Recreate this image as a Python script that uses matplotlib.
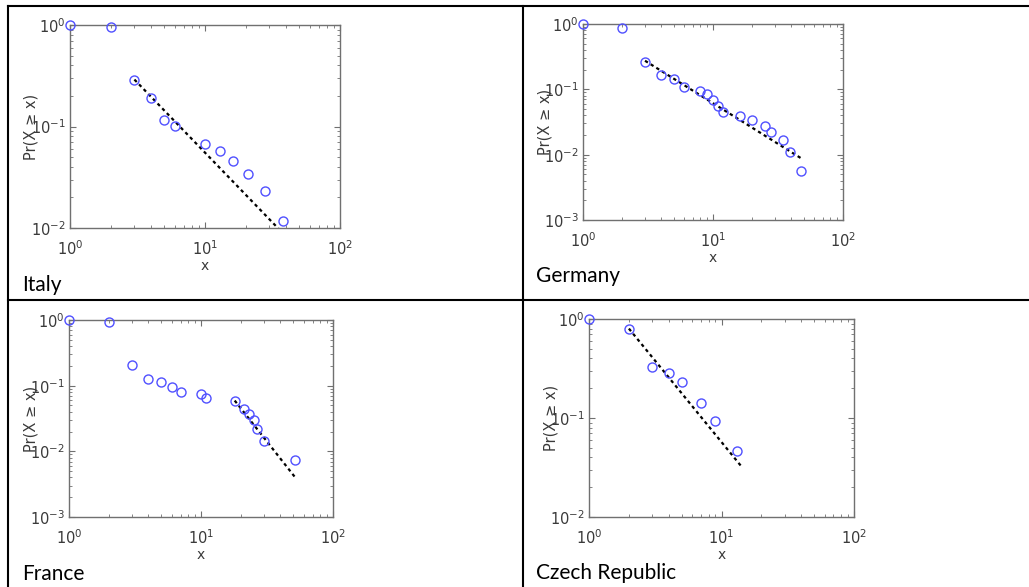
import matplotlib
matplotlib.use("Agg")
import matplotlib.pyplot as plt
from matplotlib.lines import Line2D
from matplotlib.ticker import LogLocator, NullFormatter

W, H = 1029, 587

# --- data ---
italy_x = [1, 2, 3, 4, 5, 6, 10, 13, 16, 21, 28, 38]
italy_y = [1.0, 0.948, 0.284, 0.192, 0.115, 0.102, 0.068, 0.057, 0.0455, 0.034, 0.023, 0.0116]
italy_fit_x = [3, 38]
italy_fit_y = [0.29, 0.0088]

germany_x = [1, 2, 3, 4, 5, 6, 8, 9, 10, 11, 12, 16, 20, 25, 28, 34.5, 39, 47.5]
germany_y = [1.0, 0.879, 0.261, 0.163, 0.145, 0.109, 0.095, 0.0836, 0.0692, 0.056,
             0.0448, 0.0389, 0.0334, 0.0276, 0.0224, 0.0167, 0.011, 0.00558]
germany_fit_x = [3, 49]
germany_fit_y = [0.274, 0.0085]

france_x = [1, 2, 3, 4, 5, 6, 7, 10, 11, 18, 21, 23, 25, 26.7, 30, 51.5]
france_y = [1.0, 0.922, 0.205, 0.125, 0.115, 0.097, 0.0795, 0.074, 0.066, 0.0593,
            0.0443, 0.0368, 0.0295, 0.0218, 0.0146, 0.00726]
france_fit_x = [18, 52.7]
france_fit_y = [0.0593, 0.00382]

czech_x = [1, 2, 3, 4, 5, 7, 9, 13]
czech_y = [1.0, 0.799, 0.327, 0.283, 0.233, 0.142, 0.0933, 0.0468]
czech_fit_x = [2, 14.3]
czech_fit_y = [0.80, 0.0318]

panels = [
    # name, x, y, fit x, fit y, ymin, axes box (px: left, top, right, bottom), label pos (px)
    ("Italy", italy_x, italy_y, italy_fit_x, italy_fit_y, 1e-2, (70, 25, 340, 228), (22, 285)),
    ("Germany", germany_x, germany_y, germany_fit_x, germany_fit_y, 1e-3, (583, 24, 843, 220), (536, 276)),
    ("France", france_x, france_y, france_fit_x, france_fit_y, 1e-3, (69, 320, 333, 517), (22, 574)),
    ("Czech Republic", czech_x, czech_y, czech_fit_x, czech_fit_y, 1e-2, (589, 319, 854, 517), (536, 573)),
]

axcol = "#707070"
txtcol = "#3a3a3a"

fig = plt.figure(figsize=(W / 100, H / 100), dpi=100)

for name, xs, ys, fx, fy, ymin, box, lab in panels:
    l, t, r, b = box
    ax = fig.add_axes([l / W, 1 - b / H, (r - l) / W, (b - t) / H])
    ax.set_xscale("log")
    ax.set_yscale("log")
    ax.set_xlim(1, 100)
    ax.set_ylim(ymin, 1)
    ax.plot(fx, fy, color="black", linestyle=(0, (1.5, 1.5)), linewidth=1.6, zorder=2)
    ax.plot(xs, ys, linestyle="none", marker="o", markersize=6.5, markerfacecolor="none",
            markeredgecolor="#5050ff", markeredgewidth=1.0, clip_on=False, zorder=3)
    ax.xaxis.set_major_locator(LogLocator(base=10, numticks=10))
    ax.yaxis.set_major_locator(LogLocator(base=10, numticks=10))
    ax.xaxis.set_minor_locator(LogLocator(base=10, subs=range(2, 10), numticks=10))
    ax.yaxis.set_minor_locator(LogLocator(base=10, subs=range(2, 10), numticks=10))
    ax.xaxis.set_minor_formatter(NullFormatter())
    ax.yaxis.set_minor_formatter(NullFormatter())
    ax.tick_params(which="both", direction="in", top=True, right=True, color=axcol,
                   labelcolor=txtcol, labelsize=10.5)
    ax.tick_params(which="major", length=4)
    ax.tick_params(axis="y", which="major", pad=3)
    ax.tick_params(axis="x", which="major", pad=8)
    ax.tick_params(which="minor", length=2)
    for s in ax.spines.values():
        s.set_color(axcol)
        s.set_linewidth(1.0)
    ax.set_ylabel("Pr(X ≥ x)", color=txtcol, fontsize=10.5)
    ax.yaxis.set_label_coords(-31 / (r - l), 0.5)
    ax.set_xlabel("x", color=txtcol, fontsize=10)
    ax.xaxis.set_label_coords(0.5, -31 / (b - t))
    fig.text(lab[0] / W, 1 - lab[1] / H, name, fontsize=15, family=["Lato", "DejaVu Sans"],
             ha="left", va="center", color="black")

# table rules
lw = 1.5
fig.add_artist(Line2D([8 / W, 1], [1 - 6 / H, 1 - 6 / H], color="black", linewidth=lw))
fig.add_artist(Line2D([8 / W, 8 / W], [0, 1 - 6 / H], color="black", linewidth=lw))
fig.add_artist(Line2D([8 / W, 1], [1 - 300 / H, 1 - 300 / H], color="black", linewidth=lw))
fig.add_artist(Line2D([523 / W, 523 / W], [0, 1 - 6 / H], color="black", linewidth=lw))

fig.savefig("out.png", dpi=100)
